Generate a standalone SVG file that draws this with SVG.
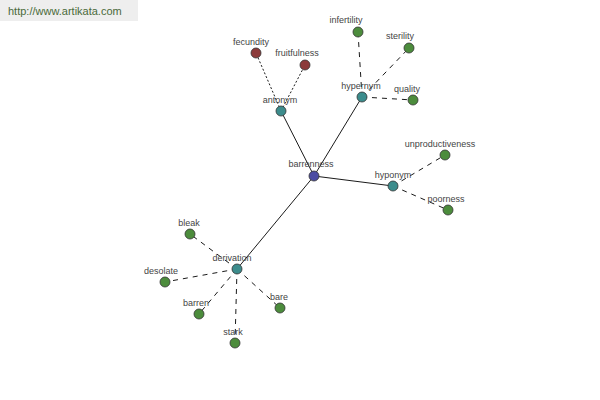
<svg xmlns="http://www.w3.org/2000/svg" width="600" height="400" viewBox="0 0 600 400">
<style>
text{font-family:"Liberation Sans",Arial,sans-serif;font-size:9px;fill:#444;text-anchor:middle}
.n{stroke:#333;stroke-width:0.8}
.root{fill:#4b4ba3}
.rel{fill:#3c8c8c}
.leaf{fill:#4c8c3c}
.ant{fill:#8c3a3a}
.e{stroke:#000;stroke-width:0.9;fill:none}
.dot{stroke-dasharray:2,2}
.dash{stroke-dasharray:5,5}
</style>
<rect x="0" y="0" width="138" height="21" fill="#eeeeee"/>
<text x="8" y="15" style="font-size:11px;fill:#4a6a3a;text-anchor:start">http://www.artikata.com</text>
<g id="connectors">
<line class="e" x1="314" y1="176" x2="281" y2="111"/>
<line class="e" x1="314" y1="176" x2="362" y2="97"/>
<line class="e" x1="314" y1="176" x2="393" y2="186"/>
<line class="e" x1="314" y1="176" x2="237" y2="269"/>
<line class="e dot" x1="281" y1="111" x2="256" y2="53"/>
<line class="e dot" x1="281" y1="111" x2="305" y2="65"/>
<line class="e dash" x1="362" y1="97" x2="358" y2="32"/>
<line class="e dash" x1="362" y1="97" x2="409" y2="48"/>
<line class="e dash" x1="362" y1="97" x2="413" y2="100"/>
<line class="e dash" x1="393" y1="186" x2="445" y2="155"/>
<line class="e dash" x1="393" y1="186" x2="448" y2="210"/>
<line class="e dash" x1="237" y1="269" x2="190" y2="234"/>
<line class="e dash" x1="237" y1="269" x2="165" y2="282"/>
<line class="e dash" x1="237" y1="269" x2="199" y2="314"/>
<line class="e dash" x1="237" y1="269" x2="280" y2="308"/>
<line class="e dash" x1="237" y1="269" x2="235" y2="343"/>
</g>
<g id="n-barrenness"><circle class="n root" cx="314" cy="176" r="5"/><text x="311" y="167">barrenness</text></g>
<g id="n-antonym"><circle class="n rel" cx="281" cy="111" r="5"/><text x="280" y="103">antonym</text></g>
<g id="n-hypernym"><circle class="n rel" cx="362" cy="97" r="5"/><text x="361" y="89">hypernym</text></g>
<g id="n-hyponym"><circle class="n rel" cx="393" cy="186" r="5"/><text x="393" y="178">hyponym</text></g>
<g id="n-derivation"><circle class="n rel" cx="237" cy="269" r="5"/><text x="232" y="261">derivation</text></g>
<g id="n-fecundity"><circle class="n ant" cx="256" cy="53" r="5"/><text x="251" y="45">fecundity</text></g>
<g id="n-fruitfulness"><circle class="n ant" cx="305" cy="65" r="5"/><text x="297" y="56">fruitfulness</text></g>
<g id="n-infertility"><circle class="n leaf" cx="358" cy="32" r="5"/><text x="346" y="23">infertility</text></g>
<g id="n-sterility"><circle class="n leaf" cx="409" cy="48" r="5"/><text x="400" y="39">sterility</text></g>
<g id="n-quality"><circle class="n leaf" cx="413" cy="100" r="5"/><text x="407" y="92">quality</text></g>
<g id="n-unproductiveness"><circle class="n leaf" cx="445" cy="155" r="5"/><text x="440" y="147">unproductiveness</text></g>
<g id="n-poorness"><circle class="n leaf" cx="448" cy="210" r="5"/><text x="446" y="202">poorness</text></g>
<g id="n-bleak"><circle class="n leaf" cx="190" cy="234" r="5"/><text x="189" y="226">bleak</text></g>
<g id="n-desolate"><circle class="n leaf" cx="165" cy="282" r="5"/><text x="161" y="274">desolate</text></g>
<g id="n-barren"><circle class="n leaf" cx="199" cy="314" r="5"/><text x="196" y="306">barren</text></g>
<g id="n-bare"><circle class="n leaf" cx="280" cy="308" r="5"/><text x="279" y="300">bare</text></g>
<g id="n-stark"><circle class="n leaf" cx="235" cy="343" r="5"/><text x="233" y="335">stark</text></g>
</svg>
